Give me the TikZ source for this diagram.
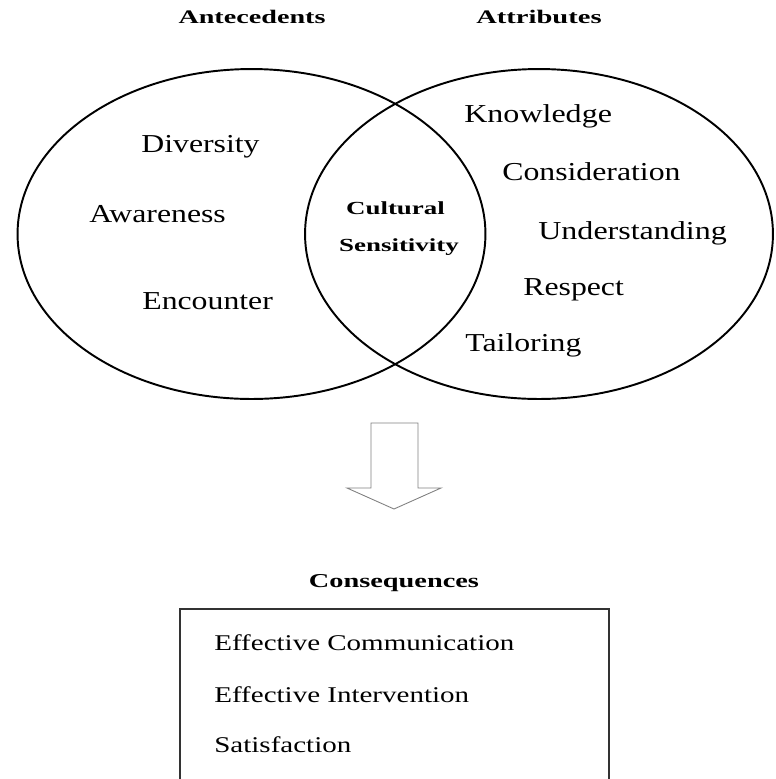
\documentclass[tikz,border=0pt]{standalone}
\usepackage{fontspec}
\setmainfont{Liberation Serif}
\usetikzlibrary{positioning}

% stretch text sideways, the figure is set wide
\newcommand{\wide}[2]{\scalebox{#1}[1]{#2}}

\tikzset{
  item text/.style={anchor=base west, inner sep=0pt, font=\fontsize{14.7}{17}\selectfont},
  head text/.style={anchor=base, inner sep=0pt, font=\fontsize{10.9}{13}\selectfont\bfseries},
  list text/.style={anchor=base west, inner sep=0pt, font=\fontsize{12.8}{15}\selectfont},
}

\begin{document}
\begin{tikzpicture}[x=0.02cm, y=-0.02cm]
	\useasboundingbox (0,0) rectangle (776,779);
	\coordinate (antc) at (251.5,234);
	\coordinate (attc) at (539,234);

	% antecedents set
    \draw[line width=1.1pt] (antc) ellipse (4.68cm and 3.3cm);
    \node[head text] (antec) at (252,23) {\wide{1.47}{Antecedents}};
    \node[item text] (diver) at (141,152) {\wide{1.23}{Diversity}};
    \node[item text] (aware) at (89,222) {\wide{1.23}{Awareness}};
    \node[item text] (encou) at (142,309) {\wide{1.23}{Encounter}};

	% attributes set
    \draw[line width=1.1pt] (attc) ellipse (4.68cm and 3.3cm);
    \node[head text] (attri) at (539,23) {\wide{1.49}{Attributes}};
    \node[item text] (knowl) at (464,122.5) {\wide{1.24}{Knowledge}};
    \node[item text] (consi) at (502,180) {\wide{1.23}{Consideration}};
    \node[item text] (under) at (538,239) {\wide{1.24}{Understanding}};
    \node[item text] (respe) at (523,295) {\wide{1.23}{Respect}};
    \node[item text] (tailo) at (465,351.5) {\wide{1.23}{Tailoring}};

	% overlap of both sets
    \node[head text, font=\fontsize{10.5}{13}\selectfont\bfseries] (cultu) at (395.5,214) {\wide{1.46}{Cultural}};
    \node[head text, font=\fontsize{10.5}{13}\selectfont\bfseries] (sensi) at (399,251.7) {\wide{1.46}{Sensitivity}};

	% block arrow down
    \draw[gray, line width=0.5pt] (371,423) -- (418,423) -- (418,488) -- (441,488)
    	-- (394,509) -- (347,488) -- (371,488) -- cycle;

	% consequences box
    \node[head text, font=\fontsize{11.2}{13}\selectfont\bfseries] (conse) at (394,587) {\wide{1.44}{Consequences}};
    \draw[black!80, line width=0.7pt] (180,609) rectangle (609,800);
    \node[list text] (commu) at (214,650.5) {\wide{1.29}{Effective Communication}};
    \node[list text] (inter) at (214,702) {\wide{1.29}{Effective Intervention}};
    \node[list text] (satis) at (214,752.5) {\wide{1.29}{Satisfaction}};
\end{tikzpicture}
\end{document}
